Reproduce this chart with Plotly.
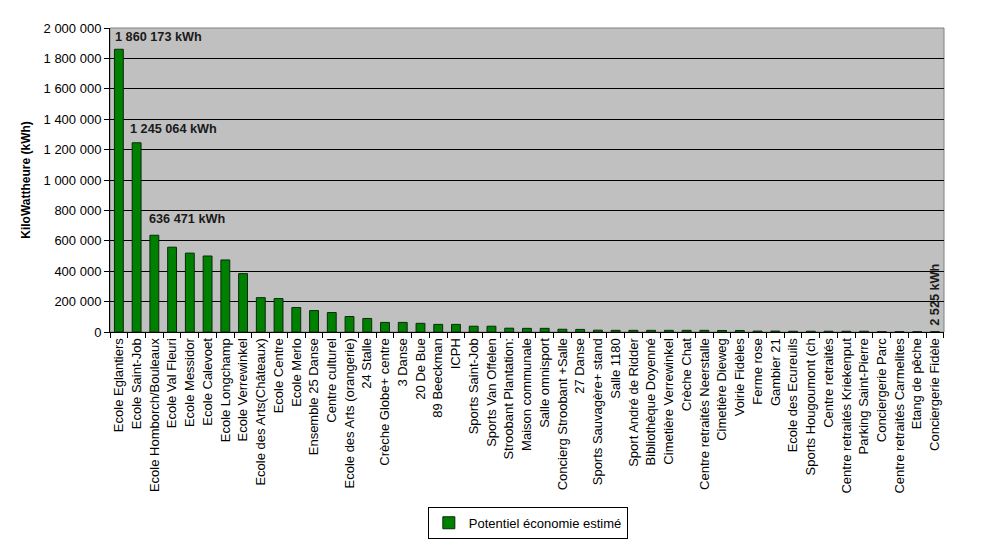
import plotly.graph_objects as go

categories = [
    "Ecole Eglantiers", "Ecole Saint-Job", "Ecole Homborch/Bouleaux", "Ecole Val Fleuri",
    "Ecole Messidor", "Ecole Calevoet", "Ecole Longchamp", "Ecole Verrewinkel",
    "Ecole des Arts(Châteaux)", "Ecole Centre", "Ecole Merlo", "Ensemble 25 Danse",
    "Centre culturel", "Ecole des Arts (orangerie)", "24 Stalle", "Crèche Globe+ centre",
    "3 Danse", "20 De Bue", "89 Beeckman", "ICPH", "Sports Saint-Job", "Sports Van Offelen",
    "Stroobant Plantation:", "Maison communale", "Salle omnisport", "Concierg Stroobant +Salle",
    "27 Danse", "Sports Sauvagère+ stand", "Salle 1180", "Sport André de Ridder",
    "Bibliothèque Doyenné", "Cimetière Verrewinkel", "Crèche Chat", "Centre retraités Neerstalle",
    "Cimetière Dieweg", "Voirie Fidèles", "Ferme rose", "Gambier 21", "Ecole des Ecureuils",
    "Sports Hougoumont (ch", "Centre retraités", "Centre retraités Kriekenput",
    "Parking Saint-Pierre", "Conciergerie Parc", "Centre retraités Carmelites",
    "Etang de pêche", "Conciergerie Fidèle",
]

values = [
    1860173, 1245064, 636471, 558000, 519000, 500000, 474000, 384000,
    226000, 220000, 161000, 141000, 128000, 102000, 89000, 63000,
    63000, 57000, 50000, 50000, 38000, 38000, 25000, 24000,
    24000, 18000, 17000, 12000, 11000, 11000, 11000, 11000,
    11000, 11000, 10000, 10000, 6000, 6000, 5000, 5000,
    5000, 5000, 5000, 3000, 3000, 2600, 2525,
]

series_name = "Potentiel économie estimé"
y_ticks = [0, 200000, 400000, 600000, 800000, 1000000, 1200000, 1400000, 1600000, 1800000, 2000000]

FONT = "Arial, Liberation Sans, sans-serif"


def fmt(v):
    return f"{v:,}".replace(",", " ") + " kWh"


fig = go.Figure()
fig.add_trace(go.Bar(
    x=categories, y=values, name=series_name,
    marker=dict(color="#008000", line=dict(color="#0a2a0a", width=1)),
    showlegend=True,
))

# value annotations
label_specs = [(0, 1941000, -6), (1, 1335000, -9), (2, 743000, -7)]
for idx, ypos, xs in label_specs:
    fig.add_annotation(
        x=categories[idx], y=ypos, text=f"<b>{fmt(values[idx])}</b>",
        showarrow=False, xanchor="left", yanchor="middle", xshift=xs,
        font=dict(family=FONT, size=12.7, color="#1a1a1a"),
    )
fig.add_annotation(
    x=categories[-1], y=245000, text=f"<b>{fmt(values[-1])}</b>",
    showarrow=False, textangle=-90, xanchor="center", yanchor="middle",
    font=dict(family=FONT, size=12.7, color="#1a1a1a"),
)

fig.update_layout(
    width=993, height=551,
    margin=dict(l=110, r=49, t=28, b=216, pad=0),
    paper_bgcolor="white",
    plot_bgcolor="#C0C0C0",
    separators=", ",
    bargap=0.5,
    font=dict(family=FONT, size=13, color="black"),
    legend=dict(
        orientation="h", x=0.501, xanchor="center", y=-0.575, yanchor="top",
        bordercolor="black", borderwidth=1, bgcolor="white",
        font=dict(family=FONT, size=13, color="black"),
        itemwidth=30, tracegroupgap=0,
    ),
)

fig.update_xaxes(
    type="category", tickangle=-90, tickson="boundaries",
    ticks="outside", ticklen=5, tickcolor="black",
    showline=True, linecolor="black", linewidth=1, mirror=False,
    showgrid=False, automargin=False,
    tickfont=dict(family=FONT, size=13, color="black"),
)

fig.update_yaxes(
    range=[0, 2000000], tickvals=y_ticks, tickformat=",d",
    ticks="outside", ticklen=5, tickcolor="black",
    showline=True, linecolor="black", linewidth=1,
    showgrid=True, gridcolor="black", gridwidth=1,
    zeroline=False, automargin=False,
    tickfont=dict(family=FONT, size=13, color="black"),
    title=dict(text="<b>KiloWattheure (kWh)</b>", standoff=10,
               font=dict(family=FONT, size=12, color="black")),
)

# grey border on the right/top of plot area
fig.add_shape(type="rect", xref="paper", yref="paper", x0=0, y0=0, x1=1, y1=1,
              line=dict(color="#808080", width=1), fillcolor="rgba(0,0,0,0)", layer="below")

fig.write_html("out.html")
